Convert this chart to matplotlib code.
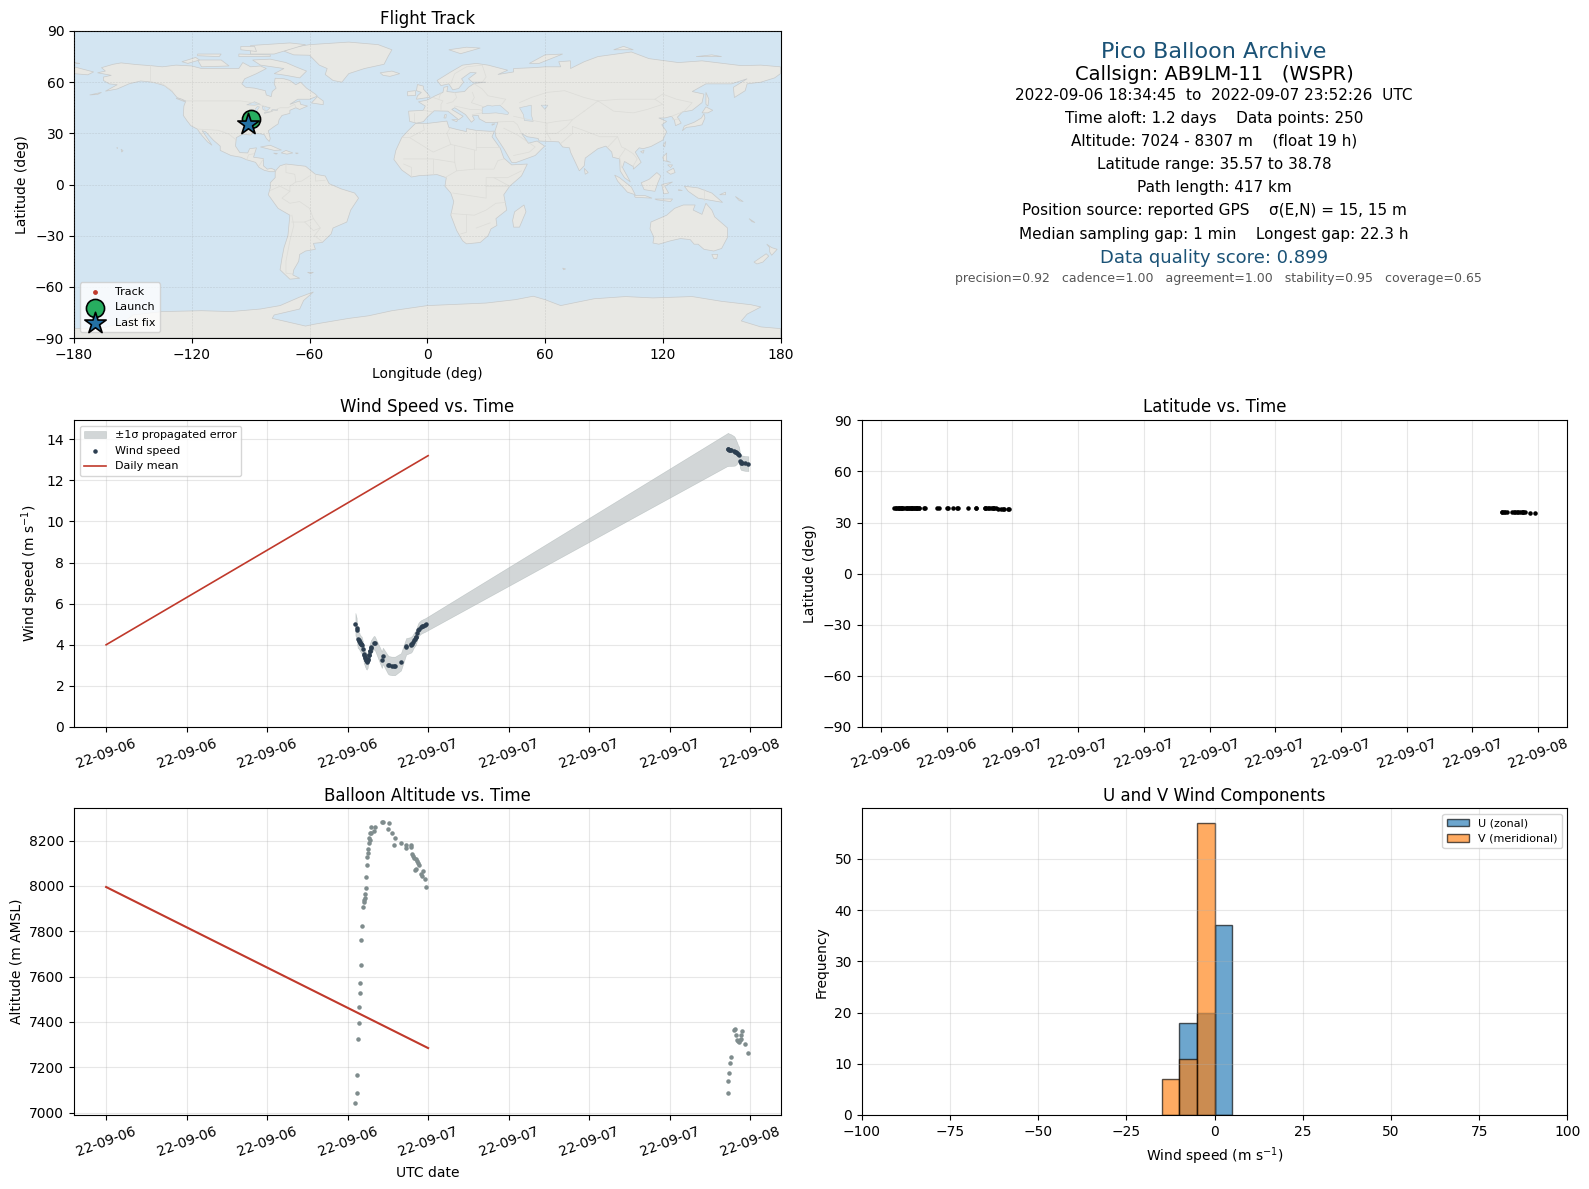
# -*- coding: utf-8 -*-
"""Pico balloon flight summary, six panels on one page."""
from datetime import datetime
import matplotlib
matplotlib.use("Agg")
import matplotlib.pyplot as plt
import matplotlib.dates as mdates
import numpy as np

W, H = 1589, 1189

# hours since 2022-09-06 00:00 UTC
HOURS = [18.58, 18.675, 18.675, 18.75, 18.825, 18.825, 18.90, 18.90, 18.975, 18.975,
         19.05, 19.125, 19.20, 19.20, 19.275, 19.275, 19.35, 19.35, 19.425, 19.425,
         19.50, 19.50, 19.575, 19.575, 19.65, 19.65, 19.725, 19.725, 19.95, 20.025,
         20.55, 20.625, 21.0, 21.075, 21.3, 21.45, 21.525, 21.975, 22.35, 22.35,
         22.725, 22.725, 22.8, 22.875, 22.95, 23.025, 23.1, 23.1, 23.175, 23.25,
         23.325, 23.475, 23.55, 23.625, 23.775, 23.85,
         46.35, 46.35, 46.425, 46.5, 46.575, 46.8, 46.875, 46.95, 47.025, 47.1,
         47.175, 47.25, 47.325, 47.325, 47.4, 47.625, 47.87]
ALTITUDE = [7042, 7086, 7166, 7326, 7397, 7468, 7526, 7574, 7650, 7761,
            7823, 7907, 7928, 7938, 7947, 7965, 7991, 8040, 8094, 8129,
            8147, 8164, 8187, 8213, 8204, 8231, 8231, 8258, 8240, 8258,
            8280, 8280, 8249, 8275, 8235, 8182, 8213, 8191, 8182, 8169,
            8182, 8173, 8142, 8133, 8125, 8071, 8076, 8120, 8111, 8102,
            8094, 8054, 8045, 8067, 8031, 7996,
            7085, 7138, 7173, 7218, 7244, 7364, 7369, 7342, 7320, 7316,
            7311, 7320, 7324, 7342, 7360, 7302, 7262]
LATITUDE = [38.78, 38.75, 38.75, 38.74, 38.73, 38.73, 38.72, 38.72, 38.71, 38.70,
            38.70, 38.69, 38.68, 38.68, 38.67, 38.67, 38.66, 38.66, 38.65, 38.65,
            38.64, 38.64, 38.63, 38.63, 38.62, 38.62, 38.61, 38.61, 38.58, 38.56,
            38.45, 38.44, 38.40, 38.39, 38.38, 38.36, 38.35, 38.32, 38.30, 38.30,
            38.28, 38.28, 38.27, 38.27, 38.26, 38.26, 38.25, 38.25, 38.24, 38.24,
            38.23, 38.23, 38.22, 38.22, 38.21, 38.20,
            36.05, 36.05, 36.04, 36.03, 36.02, 36.00, 35.99, 35.98, 35.97, 35.96,
            35.95, 35.94, 35.93, 35.93, 35.90, 35.75, 35.57]
WIND = [5.00, 4.80, 4.72, 4.29, 4.24, 4.20, 4.15, 4.10, 4.05, 4.02,
        4.00, 3.80, 3.56, 3.50, 3.40, 3.36, 3.27, 3.24, 3.17, 3.20,
        3.24, 3.30, 3.48, 3.52, 3.69, 3.72, 3.85, 3.88, 4.10, 4.08,
        3.27, 3.46, 3.04, 3.00, 2.97, 2.97, 2.97, 3.17, 3.90, 3.92,
        4.00, 4.02, 4.05, 4.15, 4.24, 4.29, 4.37, 4.40, 4.55, 4.70,
        4.78, 4.87, 4.89, 4.92, 4.96, 4.99,
        13.51, 13.50, 13.49, 13.48, 13.47, 13.43, 13.40, 13.36, 13.33, 13.29,
        13.25, 12.94, 12.87, 12.86, 12.85, 12.82, 12.81]
WIND_SIGMA = [0.55, 0.50, 0.50, 0.45, 0.42, 0.42, 0.40, 0.40, 0.40, 0.40,
              0.40, 0.40, 0.40, 0.40, 0.40, 0.40, 0.40, 0.40, 0.38, 0.38,
              0.36, 0.36, 0.35, 0.35, 0.33, 0.33, 0.33, 0.33, 0.33, 0.33,
              0.40, 0.40, 0.45, 0.45, 0.45, 0.45, 0.45, 0.42, 0.40, 0.40,
              0.38, 0.38, 0.38, 0.36, 0.36, 0.35, 0.35, 0.35, 0.34, 0.34,
              0.33, 0.33, 0.33, 0.33, 0.33, 0.33,
              0.80, 0.80, 0.79, 0.78, 0.77, 0.72, 0.68, 0.60, 0.52, 0.42,
              0.38, 0.36, 0.36, 0.36, 0.36, 0.36, 0.36]

MEAN_HOURS = [0, 24]
MEAN_WIND = [4.0, 13.2]
MEAN_ALT = [7995, 7285]

BIN_EDGES = [-15, -10, -5, 0, 5]
U_COUNTS = [0, 18, 20, 37]
V_COUNTS = [7, 11, 57, 0]

TRACK_LON = [-89.7, -90.2, -90.8, -91.2]
TRACK_LAT = [38.2, 37.9, 36.0, 35.3]

NORTH_AMERICA = [(-168,65.5),(-164,66.5),(-166,68.5),(-160,70.5),(-156,71.3),(-148,70.3),(-141,69.7),(-135,69),(-128,70),(-120,69.5),(-115,68),(-108,68),(-100,68),(-96,68),(-94,71.5),(-90,69),(-85,69.5),(-82,68),(-87,65),(-93,62),(-94.5,59),(-92.5,57),(-88,56.5),(-82.5,55),(-82,52.5),(-79.5,51.5),(-79,54.5),(-77,56.5),(-78,59),(-77.5,62.3),(-73,62),(-70,61),(-67,58.5),(-64.5,60),(-61.5,56.5),(-57,53),(-56,51.8),(-60,50),(-66,50),(-70,47),(-65,49),(-64.5,47),(-61,46),(-65,44),(-67,45),(-70,43.5),(-70,41.7),(-74,40.5),(-75.5,38),(-76,35.5),(-78,34),(-81,31.5),(-80,27),(-80.5,25.2),(-82,27),(-83,29.2),(-85,29.7),(-89,30),(-90,29),(-94,29.5),(-97.3,27.5),(-97.7,22.5),(-95.5,18.7),(-91.5,18.5),(-90.5,21),(-87,21.5),(-88,18),(-88.5,16),(-83.5,15.2),(-83.5,11),(-81.5,9),(-79.5,9.5),(-77.5,8.5),(-78,7.5),(-80,7.5),(-83,8.3),(-85.7,10),(-87.5,13),(-92,14.5),(-95,16),(-100,17),(-105.5,20),(-105.5,22.5),(-109,26),(-113,31),(-114.7,31.5),(-112,27),(-109.7,23),(-112,25),(-115,29),(-117.2,32.5),(-120.5,34.5),(-122.5,37.5),(-124.3,40.5),(-124,46),(-123,49),(-127.5,51),(-130,54.5),(-134,58),(-140,60),(-146,60.7),(-152,59),(-158,56),(-164,54.7),(-158,58.5),(-162,59),(-165,61),(-165,63),(-161,64),(-168,65.5)]
SOUTH_AMERICA = [(-77,8.5),(-75,11),(-72,12),(-68,11.5),(-62,10.7),(-57,6),(-52,5),(-50,0.5),(-44,-2.5),(-37,-5),(-35,-8),(-39,-15),(-41,-22),(-48,-25.5),(-49,-29),(-53.5,-34),(-58,-34.5),(-57,-38),(-62,-39),(-65,-41),(-65.5,-45),(-68,-50),(-68.5,-53),(-65,-55),(-70,-55.5),(-75,-50),(-74,-43),(-73,-37),(-71,-30),(-70,-18),(-76,-14),(-81,-6),(-80,-2),(-80,1),(-77.5,4),(-77.5,7)]
AFRICA = [(-6,35.8),(0,35.8),(10,37.2),(11,33.5),(15,32.3),(20,31),(20,32.8),(25,31.7),(32,31.2),(34.2,31.3),(33,28),(35.5,24),(37.3,21),(39,15.5),(43,11.5),(51,12),(48,5),(42,-1),(39,-6),(40.5,-15),(35,-20),(35.5,-24),(32.5,-26),(31,-30),(27,-34),(20,-34.8),(18,-33),(15,-27),(12,-18),(13.5,-10),(12,-5),(9,-1),(9.7,4),(5,5.8),(-4,5.2),(-8,4.4),(-13,8.5),(-17,14.7),(-16,20),(-13,27.5),(-9.8,31.5)]
EURASIA = [(-9,37),(-9.5,43),(-2,43.5),(-1,46),(-4.5,48.5),(0,49.5),(4,52),(8,54),(8.5,57),(10.5,57.5),(10,54.5),(14,54),(19,54.5),(21,57),(24,59.3),(30,60),(23,60),(21,62),(25,65.5),(22,65.7),(17.5,62),(18.5,60),(16,56.3),(13,55.5),(11,59),(7,58),(5,61),(12,66),(18,70),(25,71),(31,70),(41,67),(36,64.5),(44,66),(44,68),(54,68.5),(60,69),(68,69),(67,72),(73,72.5),(73,68),(80,72),(87,75),(104,77.7),(113,73.8),(128,71.5),(140,72.5),(160,69.7),(170,70),(180,69),(180,65),(177,62.5),(170,60),(163,59),(162,55),(156.5,51),(156,57),(163,62),(155,59),(142,59),(135,54.5),(141,53),(140,48),(135,43.5),(130,42.5),(127.5,39.5),(129.4,36),(126.5,34.5),(126,37.5),(124.5,40),(121,39),(118,39),(122,37),(119.5,35),(122,31),(120,26),(114,22.3),(110,21),(108,21.5),(106,19),(109,13),(105,9),(105,10.5),(100.5,13.5),(99.5,10),(103.5,1.5),(100.5,4),(98.3,8),(98,15),(94.5,16),(94,19),(91,22.5),(87,21),(80.5,15.5),(80,11),(77.5,8),(73,19),(72.5,21.5),(69,22),(67,25),(57,25.5),(56.5,27),(51,28),(48,30),(50.5,26),(51.5,24.2),(56,25.5),(59.8,22.5),(55,17),(45,12.8),(43,13),(39,21),(35,28),(34.5,31.3),(36,36.5),(30,36.3),(26.5,38.5),(26,40.5),(23,40.3),(24,38),(22.5,36.5),(19.5,41),(14,45),(12.5,44),(18.3,40),(16,38),(10.5,43),(3.5,43.2),(0,39.5),(-2,36.8),(-5.5,36)]
AUSTRALIA = [(114,-22),(122,-18),(126,-14),(130.5,-12),(136.5,-12),(135.5,-15),(140,-17.5),(142,-11),(145,-15),(146.5,-19),(153,-25.5),(153,-31),(150,-37.5),(146,-39),(141,-38),(138,-35),(136,-35),(134,-32.3),(129,-31.7),(124,-33),(118,-35),(115,-34.3),(115.5,-31),(113.5,-26)]
ANTARCTICA = [(-180,-84.5),(-165,-84),(-155,-81),(-150,-76.5),(-135,-74.5),(-115,-74),(-100,-74.5),(-85,-73),(-75,-71),(-65,-66),(-58,-63),(-63,-68),(-65,-73),(-78,-76.5),(-79,-78.5),(-62,-83),(-58,-82),(-40,-78.5),(-30,-77),(-18,-74),(0,-71),(14,-70.3),(30,-69.5),(45,-67.5),(54,-65.5),(60,-67.5),(68,-71),(73,-69.8),(85,-67),(101,-65.7),(115,-66.5),(135,-65.7),(150,-68.5),(165,-70.5),(170,-71.8),(163,-76),(160,-80),(170,-83.5),(180,-84.5),(180,-90),(-180,-90)]
ISLANDS = [
    [(-73,78.2),(-68,76),(-60,75.8),(-55,70),(-51,68),(-52,64.5),(-48,61),(-43.5,60),(-40,65),(-32,68),(-22,70.5),(-20,75),(-18,79),(-25,82),(-40,83.5),(-60,82),(-68,80.5)],
    [(-80,73.5),(-72,71.5),(-67,69),(-61.5,66.5),(-65,62.5),(-72,64),(-78,65),(-73,68),(-85,70),(-89,73)],
    [(-117,73),(-105,73),(-101,69.5),(-115,69)],
    [(-125,72),(-118,74.5),(-116,73),(-122,71)],
    [(-90,76.5),(-78,76.5),(-62,82),(-70,83),(-90,81.5)],
    [(-96,75),(-80,75),(-80,76),(-96,76.5)],
    [(-117,75.5),(-106,75),(-105,76.5),(-117,76.5)],
    [(-95,79),(-87,78),(-88,81),(-95,81)],
    [(-59,47.8),(-53,46.8),(-53,49),(-56,51.5)],
    [(-85,22),(-80,23),(-74.3,20.2),(-78,20)],
    [(-74.4,18.5),(-72,20),(-68.5,18.5),(-71.5,17.8)],
    [(-78.3,18.4),(-76.3,18.2),(-77,17.8)],
    [(-67.2,18.5),(-65.7,18.4),(-66.5,18)],
    [(-128,50.5),(-123.5,48.5),(-125,50)],
    [(-156,20.7),(-155,19.8),(-155.7,19)],
    [(-158.2,21.6),(-157.7,21.4),(-158,21.2)],
    [(-5.5,50),(1.5,51.2),(0,53.5),(-2,56),(-2,57.7),(-5,58.6),(-5.5,55),(-3,54),(-5,52)],
    [(-10,52),(-6,52.2),(-6,55),(-10,54.5)],
    [(-24,65.5),(-18,66.5),(-14,65),(-19,63.4),(-22.5,64)],
    [(11,79),(20,80.5),(27,80),(17,76.7)],
    [(52,71),(57,71),(69,76.5),(60,76)],
    [(95,79),(105,79),(100,81)],
    [(137,75),(150,75),(145,76)],
    [(142,54),(143.5,50),(143,46),(142,47)],
    [(130,31.5),(132,33.5),(136,34),(140,35),(141.5,39),(141,41.5),(139.7,39),(136,36.5),(131,34.3)],
    [(140,42),(142,45.5),(145.5,43.5),(143,42)],
    [(120.2,23),(121.5,25.2),(121,22)],
    [(108.7,19.3),(110.5,20),(110,18.3)],
    [(120,16),(122,18.5),(122,14),(124,13),(120.5,14)],
    [(122,7.5),(125.5,9.5),(126.3,7),(124,6)],
    [(122.5,11.5),(125,11.5),(124,10)],
    [(109,1),(113,3),(117,7),(119,5),(117.5,1),(116,-4),(110.5,-3)],
    [(95.5,5.5),(98,4),(104,-1.5),(106,-6),(102,-4.5),(97,2)],
    [(105.5,-6.5),(111,-6.5),(114.5,-8),(106,-7.5)],
    [(119.5,0),(125,1.5),(121,-1),(123,-5),(120.5,-5.5)],
    [(116,-8.5),(125,-8.5),(124,-10),(117,-9)],
    [(128,-3),(130,-3.5),(128,-3.5)],
    [(131,-1),(138,-2),(145,-5),(148,-8),(150.5,-10.5),(143,-9),(138,-8),(133,-4)],
    [(149,-6),(152,-4.5),(152,-6)],
    [(157,-7),(161,-10),(159,-9.5)],
    [(164,-20),(167,-22.3),(165.5,-21.8)],
    [(173,-35),(175.5,-37),(178.3,-38),(175.5,-41.5),(174.5,-39.5),(174.5,-37)],
    [(172.7,-40.6),(174,-42),(171,-45.5),(168,-46.6),(166.5,-45.5)],
    [(145,-41),(148,-41),(147.5,-43.5),(146,-43.5)],
    [(49.3,-12),(50.3,-16),(47,-25),(44,-25),(43.5,-21),(44.5,-16)],
    [(80,9.5),(82,7),(80.5,6)],
    [(69,-49),(70.5,-49.5),(69.5,-50)],
    [(-61,-51.5),(-58,-51.5),(-59.5,-52.3)],
    [(-180,65),(-173,64.3),(-170,66),(-175,67.5),(-180,69)],
    [(9,41),(9.7,41),(9.5,39),(8.5,39)],
    [(12.5,38),(15.5,38),(15,36.8)],
    [(-180,71.5),(-177,71),(-178,70.8)],
    [(33,35.4),(34.5,35.6),(33,34.7)],
    [(-172,52.5),(-166,54),(-168,52.8)],
]
INLAND_WATER = [
    [(28,41.5),(28,45),(31,46.5),(33,46),(37,46.5),(41.5,42),(41,41),(35,42)],
    [(47,45),(53,46.5),(53,41),(54,37),(49.5,37.5),(49,41)],
    [(-92,46.7),(-88,48.5),(-85,47),(-88,46.5)],
    [(-87.5,42),(-85.5,45.5),(-86.5,45.8),(-87.8,44)],
    [(-84,46),(-80,45),(-82,43),(-83.7,44)],
    [(-83,41.7),(-79,42.8),(-79,43),(-83,42.2)],
    [(-79.5,43.3),(-76.3,43.5),(-76.3,44.1),(-79,43.9)],
    [(58,46.5),(61.5,46.5),(60,44)],
]
BORDERS = [
    [(-123,49),(-95,49),(-89,48),(-83,46),(-82.5,42.5),(-79,43),(-75,45),(-71,45),(-67.5,47),(-67,45)],
    [(-141,69.7),(-141,60),(-135,59),(-130,55)],
    [(-117,32.5),(-106.5,31.8),(-101,29.5),(-97.3,26)],
    [(-92,14.5),(-91,17.5),(-88.5,18)],
    [(-83.5,15),(-85.7,11)],
    [(-72,12),(-72,7),(-67.5,6),(-67,1.5)],
    [(-60,5),(-64,2),(-67,1.5),(-70,-1),(-70,-4),(-74,-8),(-70,-11),(-65,-10),(-60,-14),(-58,-20),(-54.5,-25.5),(-57.5,-30),(-53.5,-33.5)],
    [(-80,-3.5),(-75,-1),(-70,-4)],
    [(-69,-18),(-68,-24),(-70,-33),(-72,-45),(-72,-52),(-68.5,-52.5)],
    [(-69,-22),(-62.5,-22),(-58,-20)],
    [(-62.5,-22),(-58,-27),(-54.5,-25.5)],
    [(-57,6),(-57,2),(-52,2.5)],
    [(-2,35),(-1.5,32),(-8.7,27.7),(-13,27.5)],
    [(-8.7,27.3),(3,19),(12,23.5),(10,30),(11.5,33)],
    [(12,23.5),(25,20),(25,31.5)],
    [(25,22),(37,22)],
    [(24,20),(24,9),(34,9),(36,14),(39,15)],
    [(-12,15),(3,15),(14,13),(14,23)],
    [(14,13),(15,8),(24,9)],
    [(3,15),(3,6)],
    [(-8,4.5),(-8,10),(-12,12)],
    [(9,4),(15,8)],
    [(13,-5),(30,-8),(30,4),(34,4),(42,-1),(34,-1),(30,-1)],
    [(34,4),(41,4),(48,8)],
    [(12,-17),(24,-18),(30,-15),(35,-11),(40,-10.5)],
    [(20,-18),(20,-28),(17,-29)],
    [(25,-25.5),(32,-22.5)],
    [(-2,43.5),(3,42.5)],
    [(-7,42),(-7,37)],
    [(3,51),(8,49),(7,47),(7,44)],
    [(7,54),(6,50.5)],
    [(14,54),(15,51),(13,48.5),(10,47.5)],
    [(23,54),(24,51),(22.5,48),(29,45.5)],
    [(24,59),(28,56),(31,52),(40,50),(38,47)],
    [(14,46),(22,44),(26,44),(28,43.5)],
    [(23,41),(28,42)],
    [(12,59),(14,65),(20,69),(28,70),(30,63),(28,60)],
    [(36,36.7),(44,37),(46,35),(48,30)],
    [(39,33),(46,29),(55,22),(52,19),(44,17)],
    [(44,40),(48,39),(54,37.5),(61,36),(61,30),(63,26)],
    [(61,36),(66,37),(74,38),(71,34),(66,30),(61,30)],
    [(47,48),(53,51),(61,54),(70,55),(80,51),(87,49)],
    [(87,49),(98,50),(108,50),(116,50),(120,53),(127,50),(135,48),(131,43)],
    [(87,49),(95,43),(105,42),(112,44),(120,47),(116,50)],
    [(80,43),(87,49)],
    [(74,38),(80,43)],
    [(74,34),(79,32),(88,28),(97,28),(92,22)],
    [(74,34),(74,30),(70,26),(68,24)],
    [(97,28),(99,22),(101,21),(98,16),(99,10)],
    [(101,21),(105,18),(107,15),(105,11)],
    [(124.5,40),(130,42.5)],
    [(125,38),(128.5,38.5)],
    [(141,-2.5),(141,-9)],
]

OCEAN = "#d3e5f2"
LAND = "#e8e8e4"
RED = "#c0392b"
NAVY = "#1a5276"

plt.rcParams.update({"font.family": "DejaVu Sans", "axes.titlesize": 12})


def axes_px(fig, x0, y0, x1, y1):
    return fig.add_axes([x0 / W, 1 - y1 / H, (x1 - x0) / W, (y1 - y0) / H])


def to_dates(hours):
    base = mdates.date2num(datetime(2022, 9, 6))
    return base + np.asarray(hours, dtype=float) / 24.0


def date_axis(ax, hours_step):
    ax.xaxis.set_major_locator(mdates.HourLocator(byhour=range(0, 24, hours_step)))
    ax.xaxis.set_major_formatter(mdates.DateFormatter("%y-%m-%d"))
    ax.tick_params(axis="x", rotation=20)
    ax.grid(True, alpha=0.3)


def draw_map(ax):
    ax.set_facecolor(OCEAN)
    for poly in [NORTH_AMERICA, SOUTH_AMERICA, AFRICA, EURASIA, AUSTRALIA, ANTARCTICA] + ISLANDS:
        lon, lat = zip(*poly)
        ax.fill(lon, lat, facecolor=LAND, edgecolor="#c8caca", lw=0.5, zorder=1)
    for poly in INLAND_WATER:
        lon, lat = zip(*poly)
        ax.fill(lon, lat, facecolor=OCEAN, edgecolor="#c8caca", lw=0.4, zorder=1.1)
    for line in BORDERS:
        lon, lat = zip(*line)
        ax.plot(lon, lat, color="#dcdcd8", lw=0.5, zorder=1.2)
    ax.scatter(TRACK_LON, TRACK_LAT, s=6, color=RED, zorder=3, label="Track")
    ax.scatter(TRACK_LON[0], TRACK_LAT[0], s=170, color="#27ae60", edgecolor="black",
               linewidth=1.2, zorder=4, label="Launch")
    ax.scatter(TRACK_LON[-1], TRACK_LAT[-1], s=260, marker="*", color="#2471a3",
               edgecolor="black", linewidth=1.2, zorder=5, label="Last fix")
    ax.set_xlim(-180, 180)
    ax.set_ylim(-90, 90)
    ax.set_xticks(range(-180, 181, 60))
    ax.set_yticks(range(-90, 91, 30))
    ax.grid(True, color="gray", alpha=0.25, ls="--", lw=0.4, zorder=2)
    ax.set_axisbelow(False)
    ax.set_xlabel("Longitude (deg)")
    ax.set_ylabel("Latitude (deg)")
    ax.set_title("Flight Track", pad=5)
    ax.legend(loc="lower left", fontsize=8)


def draw_summary(fig):
    lines = [
        (52.5, 1214, "Pico Balloon Archive", 16, NAVY),
        (75, 1214, "Callsign: AB9LM-11   (WSPR)", 14, "black"),
        (95.5, 1214, "2022-09-06 18:34:45  to  2022-09-07 23:52:26  UTC", 11, "black"),
        (118.5, 1214, "Time aloft: 1.2 days    Data points: 250", 11, "black"),
        (141, 1214, "Altitude: 7024 - 8307 m    (float 19 h)", 11, "black"),
        (164.5, 1214, "Latitude range: 35.57 to 38.78", 11, "black"),
        (187.5, 1214, "Path length: 417 km", 11, "black"),
        (211, 1214, "Position source: reported GPS    σ(E,N) = 15, 15 m", 11, "black"),
        (234, 1214, "Median sampling gap: 1 min    Longest gap: 22.3 h", 11, "black"),
        (258, 1214, "Data quality score: 0.899", 13, NAVY),
        (279, 1218.5, "precision=0.92   cadence=1.00   agreement=1.00   stability=0.95   coverage=0.65", 9, "#555555"),
    ]
    for y, x, txt, size, col in lines:
        fig.text(x / W, 1 - y / H, txt, ha="center", va="center", fontsize=size, color=col)


fig = plt.figure(figsize=(W / 100, H / 100), dpi=100)
t = to_dates(HOURS)
t_mean = to_dates(MEAN_HOURS)

ax_map = axes_px(fig, 74, 31, 780.5, 338)
draw_map(ax_map)
draw_summary(fig)

# wind speed
ax_w = axes_px(fig, 74, 420.3, 780.5, 727)
wind = np.array(WIND)
sigma = np.array(WIND_SIGMA)
ax_w.fill_between(t, wind - sigma, wind + sigma, color="#7f8c8d", alpha=0.35,
                  linewidth=0.4, label="±1σ propagated error")
ax_w.scatter(t, wind, s=5, color="#2c3e50", label="Wind speed", zorder=3)
ax_w.plot(t_mean, MEAN_WIND, color=RED, lw=1.2, label="Daily mean")
ax_w.set_ylim(0, 14.92)
date_axis(ax_w, 6)
ax_w.set_ylabel("Wind speed (m s$^{-1}$)")
ax_w.set_title("Wind Speed vs. Time", pad=6)
ax_w.legend(loc="upper left", fontsize=8)

# latitude
ax_lat = axes_px(fig, 861.7, 420.3, 1567.4, 727)
ax_lat.scatter(t, LATITUDE, s=5, color="black", zorder=3)
ax_lat.set_ylim(-90, 90)
ax_lat.set_yticks(range(-90, 91, 30))
date_axis(ax_lat, 3)
ax_lat.set_ylabel("Latitude (deg)")
ax_lat.set_title("Latitude vs. Time", pad=6)

# altitude
ax_alt = axes_px(fig, 74, 808.3, 780.5, 1115)
ax_alt.scatter(t, ALTITUDE, s=5, color="#7f8c8d", zorder=3)
ax_alt.plot(t_mean, MEAN_ALT, color=RED, lw=1.5)
ax_alt.set_ylim(6990, 8342)
date_axis(ax_alt, 6)
ax_alt.set_xlabel("UTC date", labelpad=5)
ax_alt.set_ylabel("Altitude (m AMSL)")
ax_alt.set_title("Balloon Altitude vs. Time", pad=5)

# U / V histogram
ax_h = axes_px(fig, 861.7, 808.3, 1567.4, 1115)
left = BIN_EDGES[:-1]
ax_h.bar(left, U_COUNTS, width=5, align="edge", color="#1f77b4", alpha=0.65,
         edgecolor="black", linewidth=1.0, label="U (zonal)")
ax_h.bar(left, V_COUNTS, width=5, align="edge", color="#ff7f0e", alpha=0.65,
         edgecolor="black", linewidth=1.0, label="V (meridional)")
ax_h.set_xlim(-100, 100)
ax_h.set_ylim(0, 59.85)
ax_h.grid(True, alpha=0.3)
ax_h.set_xlabel("Wind speed (m s$^{-1}$)", labelpad=5)
ax_h.set_ylabel("Frequency")
ax_h.set_title("U and V Wind Components", pad=5)
ax_h.legend(loc="upper right", fontsize=8)

fig.savefig("out.png", dpi=100)
